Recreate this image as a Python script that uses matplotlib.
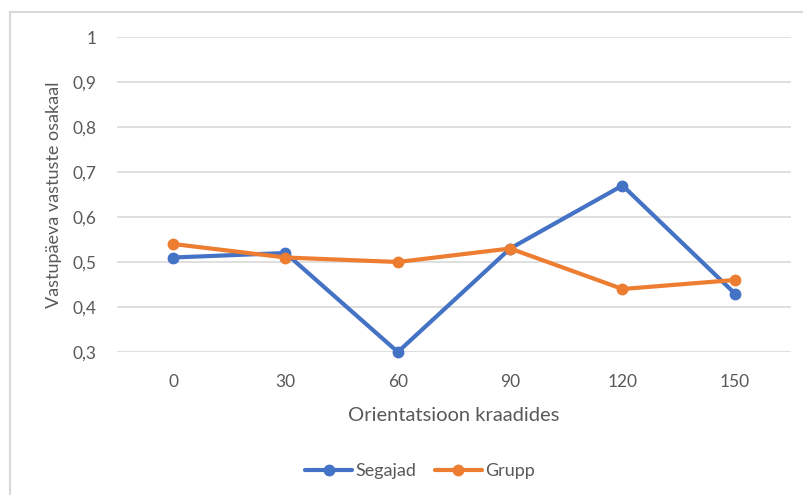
import matplotlib.pyplot as plt
from matplotlib.patches import Rectangle

categories = ["0", "30", "60", "90", "120", "150"]
segajad = [0.51, 0.52, 0.30, 0.53, 0.67, 0.43]
grupp = [0.54, 0.51, 0.50, 0.53, 0.44, 0.46]
y_ticks = [0.3, 0.4, 0.5, 0.6, 0.7, 0.8, 0.9, 1.0]
y_labels = ["0,3", "0,4", "0,5", "0,6", "0,7", "0,8", "0,9", "1"]

plt.rcParams['font.family'] = ['Lato', 'DejaVu Sans']
txt = "#595959"

fig = plt.figure(figsize=(8.04, 4.95), dpi=100)
W, H = 804, 495
fig.patches.append(Rectangle((10 / W, -0.1), 1.2, 1 - 12 / H + 0.1,
                             transform=fig.transFigure, fill=False,
                             edgecolor="#d9d9d9", linewidth=1.5))

ax = fig.add_axes([117 / W, 1 - 352 / H, (791 - 117) / W, (352 - 37) / H])
x = list(range(len(categories)))
ax.plot(x, segajad, color="#4472c4", linewidth=3, marker="o", markersize=7.5,
        label="Segajad", solid_capstyle="round", clip_on=False, zorder=3)
ax.plot(x, grupp, color="#ed7d31", linewidth=3, marker="o", markersize=7.5,
        label="Grupp", solid_capstyle="round", clip_on=False, zorder=4)

ax.set_xlim(-0.5, len(categories) - 0.5)
ax.set_ylim(0.3, 1.0)
ax.set_xticks(x)
ax.set_xticklabels(categories)
ax.set_yticks(y_ticks)
ax.set_yticklabels(y_labels)
ax.grid(axis="y", color="#d9d9d9", linewidth=1.2)
ax.set_axisbelow(True)
for s in ax.spines.values():
    s.set_visible(False)
ax.tick_params(length=0, labelsize=12.5, colors=txt)
ax.tick_params(axis="x", pad=16)
ax.tick_params(axis="y", pad=15)

ax.set_xlabel("Orientatsioon kraadides", fontsize=14.5, color=txt, labelpad=12)
ax.set_ylabel("Vastupäeva vastuste osakaal", fontsize=13, color=txt, labelpad=7)

fig.legend(*ax.get_legend_handles_labels(), loc="center",
           bbox_to_anchor=(420 / W, 1 - 471 / H), ncol=2, frameon=False,
           fontsize=13, labelcolor=txt, handlelength=2.6, handletextpad=0.2,
           columnspacing=1.0)

fig.savefig("out.png", dpi=100)
